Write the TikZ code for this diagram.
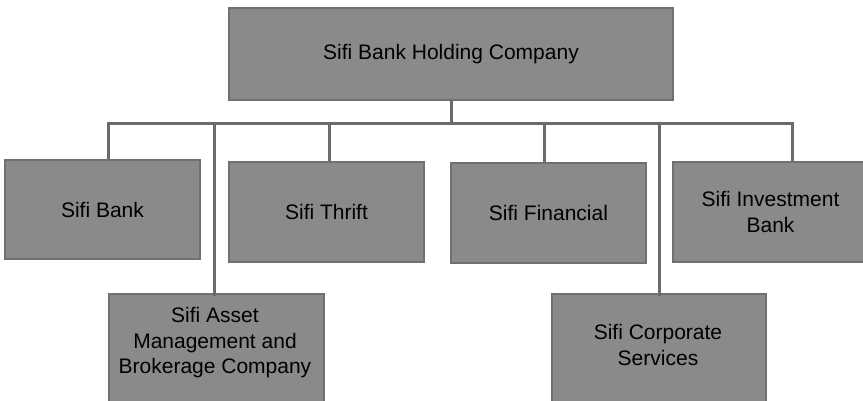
\documentclass[tikz,border=0pt]{standalone}
\usepackage{fontspec}
\setmainfont{Liberation Sans}
\begin{document}
\begin{tikzpicture}
[x=1pt,y=-1pt,
 unit/.style={draw=black!56,line width=2pt,fill=black!46,anchor=north west,
   align=center,inner sep=0pt,font=\fontsize{21}{25.5}\selectfont},
 caption/.style={align=center,inner sep=0pt,font=\fontsize{21}{25.5}\selectfont},
 link/.style={draw=black!58,line width=3pt}]
\useasboundingbox (0,0) rectangle (863,400);
\clip (0,0) rectangle (863,400);

\node[unit,minimum width=444pt,minimum height=92pt] (hold) at (228,7) {Sifi Bank Holding Company};

\node[unit,minimum width=195pt,minimum height=99pt] (bank) at (4,159) {Sifi Bank};
\node[unit,minimum width=195pt,minimum height=100pt] (thrift) at (228,161) {Sifi Thrift};
\node[unit,minimum width=195pt,minimum height=100pt] (fin) at (450,162) {Sifi Financial};
\node[unit,minimum width=195pt,minimum height=100pt] (inv) at (672,161) {Sifi Investment\\Bank};

% lower row runs off the page
\node[unit,minimum width=215pt,minimum height=140pt] (asset) at (108,293) {};
\node[caption] (assetname) at (215,343) {Sifi Asset\\Management and\\Brokerage Company};
\node[unit,minimum width=214pt,minimum height=140pt] (corp) at (551,293) {};
\node[caption] (corpname) at (658,345) {Sifi Corporate\\Services};

% bus under the holding company
\coordinate (tbank) at (108,123);
\coordinate (tasset) at (214,123);
\coordinate (tthrift) at (329,123);
\coordinate (tfin) at (544,123);
\coordinate (tcorp) at (659,123);
\coordinate (tinv) at (792,123);

\draw[link] (hold.south) -- (hold.south |- tbank);
\draw[link,line cap=rect] (tbank) -- (tinv);
\draw[link] (tbank) -- (tbank |- bank.north);
\draw[link] (tasset) -- ([yshift=-3pt]tasset |- asset.north);
\draw[link] (tthrift) -- (tthrift |- thrift.north);
\draw[link] (tfin) -- (tfin |- fin.north);
\draw[link] (tcorp) -- ([yshift=-3pt]tcorp |- corp.north);
\draw[link] (tinv) -- (tinv |- inv.north);
\end{tikzpicture}
\end{document}
